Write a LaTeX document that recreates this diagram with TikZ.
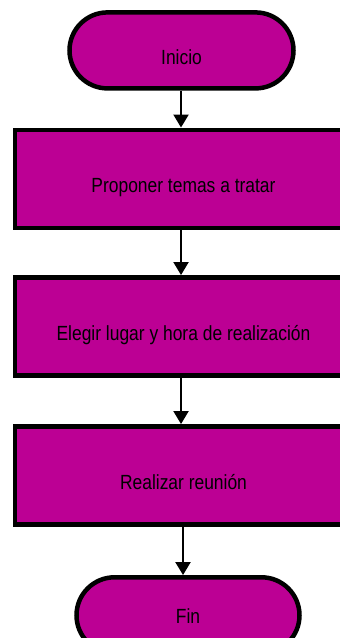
\documentclass[tikz,border=0pt]{standalone}
\usepackage{fontspec}
\setmainfont[FakeStretch=0.85]{Liberation Sans}
\usetikzlibrary{shapes.misc,arrows.meta}
\definecolor{mag}{RGB}{188,0,148}
\begin{document}
\begin{tikzpicture}[x=1pt,y=-1pt,
  every node/.style={font=\fontsize{20.5}{24}\selectfont, text height=27.5pt, text depth=0pt, inner sep=0pt},
  term/.style={rounded rectangle, draw=black, fill=mag, line width=4.5pt, minimum width=224pt, minimum height=76pt},
  proc/.style={rectangle, draw=black, fill=mag, line width=4.5pt, minimum width=337pt, minimum height=98pt},
  arr/.style={line width=2pt, -{Triangle[width=15pt,length=13pt]}}]
\useasboundingbox (0,0) rectangle (340,638);
\clip (0,0) rectangle (340,638);
\fill[white] (0,0) rectangle (340,638);
\node[term] (ini) at (181.5,50.4) {Inicio};
\node[proc] (p1) at (183.5,178.8) {Proponer temas a tratar};
\node[proc] (p2) at (183.5,326.3) {Elegir lugar y hora de realización};
\node[proc] (p3) at (183.5,475.3) {Realizar reunión};
\node[term, minimum width=223pt, text height=15.5pt] (fin) at (188,615.3) {Fin};
\coordinate (ax) at (181,0);
\coordinate (bx) at (183,0);
\draw[arr] (ax |- ini.south) -- (ax |- p1.north);
\draw[arr] (ax |- p1.south) -- (ax |- p2.north);
\draw[arr] (ax |- p2.south) -- (ax |- p3.north);
\draw[arr] (bx |- p3.south) -- (bx |- fin.north);
\end{tikzpicture}
\end{document}
